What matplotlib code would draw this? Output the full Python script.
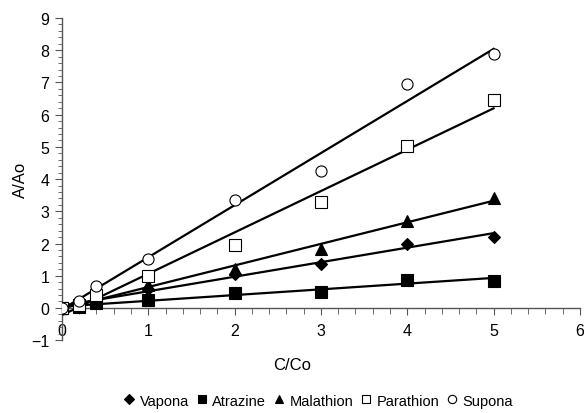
import numpy as np
import matplotlib
matplotlib.use("Agg")
import matplotlib.pyplot as plt
from matplotlib.ticker import MultipleLocator

plt.rcParams['font.family'] = ['Liberation Sans', 'DejaVu Sans']

# concentration ratio C/Co
conc = [0, 0.2, 0.4, 1, 2, 3, 4, 5]

# response A/Ao
vapona    = [0, 0.05, 0.30, 0.60, 1.05, 1.37, 2.00, 2.20]
atrazine  = [0, 0.04, 0.15, 0.25, 0.45, 0.50, 0.88, 0.85]
malathion = [0, 0.08, 0.35, 0.70, 1.20, 1.83, 2.70, 3.42]
parathion = [0, 0.10, 0.40, 1.00, 1.96, 3.29, 5.03, 6.46]
supona    = [0, 0.22, 0.68, 1.52, 3.35, 4.25, 6.96, 7.89]

names = ['Vapona', 'Atrazine', 'Malathion', 'Parathion', 'Supona']
series = [vapona, atrazine, malathion, parathion, supona]
markers = ['D', 's', '^', 's', 'o']
filled = [True, True, True, False, False]
msizes = [6.5, 8, 8, 8, 8]

fig = plt.figure(figsize=(5.84, 4.14), dpi=100)
ax = fig.add_axes([0.106, 0.176, 0.887, 0.778])

xs = np.array(conc)
handles = []
for name, ys, m, f, ms in zip(names, series, markers, filled, msizes):
    # linear trend line like the spreadsheet one
    k, b = np.polyfit(xs, ys, 1)
    ax.plot([0, 5], [b, k * 5 + b], color='black', lw=1.6, zorder=2)
    h, = ax.plot(xs, ys, linestyle='none', marker=m, markersize=ms,
                 markerfacecolor='black' if f else 'white',
                 markeredgecolor='black', markeredgewidth=0.8, zorder=3,
                 label=name)
    handles.append(h)

ax.set_xlim(0, 6)
ax.set_ylim(-1, 9)
ax.xaxis.set_major_locator(MultipleLocator(1))
ax.xaxis.set_minor_locator(MultipleLocator(0.2))
ax.yaxis.set_major_locator(MultipleLocator(1))
ax.yaxis.set_minor_locator(MultipleLocator(0.2))

ax.spines['top'].set_visible(False)
ax.spines['right'].set_visible(False)
ax.spines['bottom'].set_position(('data', 0))
for s in ['left', 'bottom']:
    ax.spines[s].set_color('#555555')
    ax.spines[s].set_linewidth(1.0)

ax.tick_params(which='both', colors='#555555', labelcolor='black', labelsize=11.5)
ax.tick_params(axis='y', which='major', length=5, pad=4)
ax.tick_params(axis='y', which='minor', length=3)
ax.tick_params(axis='x', which='major', length=5, pad=6)
ax.tick_params(axis='x', which='minor', length=4)

fig.text(20 / 584, 0.565, 'A/Ao', rotation=90, ha='center', va='center', fontsize=12)
fig.text(0.5, 0.118, 'C/Co', ha='center', va='center', fontsize=12)

fig.legend(handles=handles, loc='center', bbox_to_anchor=(0.545, 0.03),
           ncol=5, frameon=False, fontsize=10.5, handlelength=0.8,
           handletextpad=0.3, columnspacing=0.5, markerscale=0.75)

fig.savefig('out.png', dpi=100)
